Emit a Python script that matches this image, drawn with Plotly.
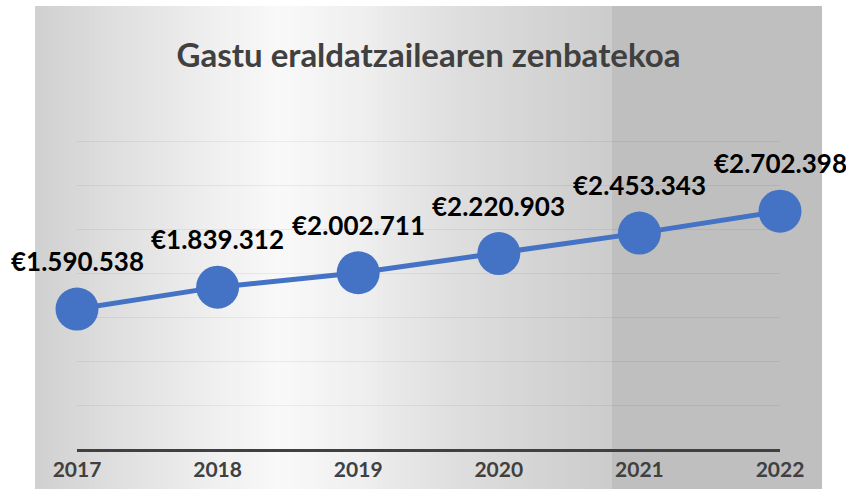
import plotly.graph_objects as go

years = ["2017", "2018", "2019", "2020", "2021", "2022"]
amounts = [1590538, 1839312, 2002711, 2220903, 2453343, 2702398]
labels = ["€1.590.538", "€1.839.312", "€2.002.711", "€2.220.903", "€2.453.343", "€2.702.398"]

W, H = 846, 495
L, R, T, B = 77, 66, 97, 46
BLUE = "#4472C4"
DARK = "#404040"
FONT = "Lato, Carlito, Calibri, sans-serif"

# panel edges in pixels and its horizontal grey gradient (pixel x, grey level)
BOX = (35, 822, 6, 489)
FLAT_X = 612
stops = [(35, 208), (100, 220), (200, 237), (280, 249), (360, 239),
         (450, 223), (540, 212), (612, 204)]


def grey_at(px):
    for (x0, g0), (x1, g1) in zip(stops, stops[1:]):
        if x0 <= px <= x1:
            g = round(g0 + (g1 - g0) * (px - x0) / (x1 - x0))
            return f"rgb({g},{g},{g})"
    return "rgb(191,191,191)"


pw = W - L - R
ph = H - T - B


def to_px(px):
    return (px - L) / pw


def to_py(py):
    return 1 - (py - T) / ph


shapes = []
step = 6
x = BOX[0]
while x < FLAT_X:
    x2 = min(x + step, FLAT_X)
    shapes.append(dict(type="rect", xref="paper", yref="paper", layer="below",
                       x0=to_px(x), x1=to_px(x2 + 0.6), y0=to_py(BOX[3]), y1=to_py(BOX[2]),
                       fillcolor=grey_at((x + x2) / 2), line=dict(width=0)))
    x = x2
# flat grey block on the right covers the gridlines
shapes.append(dict(type="rect", xref="paper", yref="paper", layer="between",
                   x0=to_px(FLAT_X), x1=to_px(BOX[1]), y0=to_py(BOX[3]), y1=to_py(BOX[2]),
                   fillcolor="rgb(191,191,191)", line=dict(width=0)))

fig = go.Figure()
fig.add_trace(go.Scatter(
    x=years, y=amounts, mode="lines+markers",
    line=dict(color=BLUE, width=5),
    marker=dict(color=BLUE, size=43),
    cliponaxis=False, hoverinfo="skip",
))

for i, (val, lab) in enumerate(zip(amounts, labels)):
    fig.add_annotation(x=i, y=val, text=lab, showarrow=False, yshift=48,
                       font=dict(family=FONT, size=26, color="black", weight="bold"))

fig.update_layout(
    width=W, height=H,
    margin=dict(l=L, r=R, t=T, b=B),
    paper_bgcolor="white",
    plot_bgcolor="rgba(0,0,0,0)",
    showlegend=False,
    shapes=shapes,
    title=dict(text="Gastu eraldatzailearen zenbatekoa", x=0.5, xref="paper",
               y=1 - 55 / H, yanchor="middle",
               font=dict(family=FONT, size=33, color=DARK, weight="bold")),
    font=dict(family=FONT),
)
fig.update_xaxes(type="category", range=[0, 5], showline=True, linecolor=DARK,
                 linewidth=3, showgrid=False, ticks="",
                 tickfont=dict(family=FONT, size=21, color=DARK, weight="bold"))
fig.update_yaxes(range=[0, 4000000], dtick=500000, showticklabels=False,
                 showgrid=True, gridcolor="rgba(0,0,0,0.06)", gridwidth=1,
                 zeroline=False)

fig.write_html("out.html", config={"displayModeBar": False},
               post_script="document.body.style.margin='0px';")
